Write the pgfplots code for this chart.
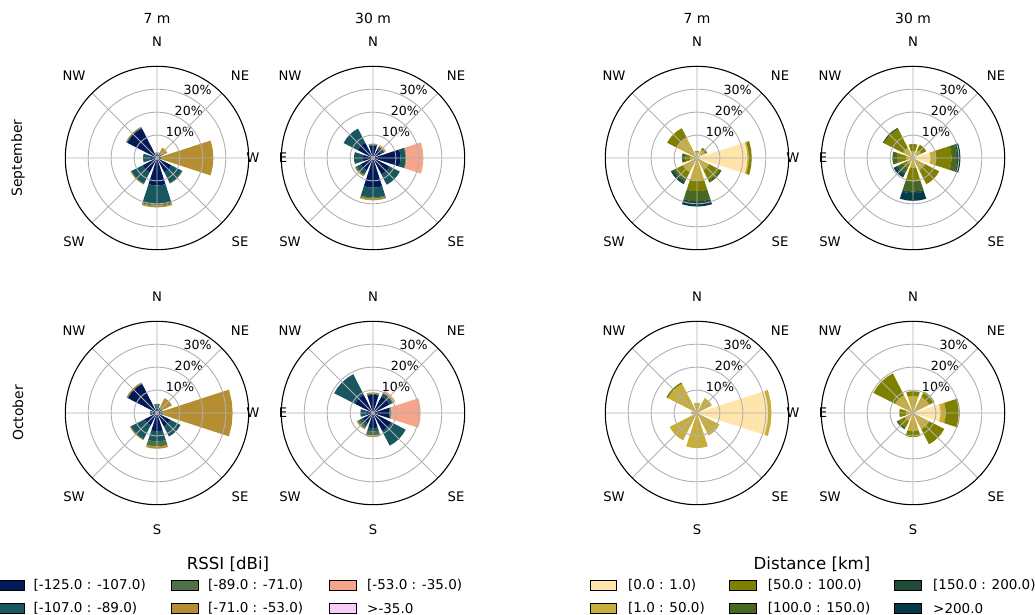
\documentclass[border=0pt]{standalone}
\usepackage{pgfplots}
\usepackage{pgfplotstable}
\pgfplotsset{compat=1.18}
\usepgfplotslibrary{polar}
\usepackage{fontspec}
\setmainfont{DejaVu Sans}

\definecolor{rssi1}{RGB}{1,25,89}
\definecolor{rssi2}{RGB}{25,87,96}
\definecolor{rssi3}{RGB}{80,113,72}
\definecolor{rssi4}{RGB}{180,142,48}
\definecolor{rssi5}{RGB}{247,165,138}
\definecolor{rssi6}{RGB}{250,204,250}
\definecolor{dist1}{RGB}{255,228,172}
\definecolor{dist2}{RGB}{199,173,60}
\definecolor{dist3}{RGB}{128,128,0}
\definecolor{dist4}{RGB}{72,104,34}
\definecolor{dist5}{RGB}{30,76,54}
\definecolor{dist6}{RGB}{5,58,72}
\definecolor{gridgray}{RGB}{176,176,176}

% September, 7 m, RSSI (percent per bin, inner to outer)
\pgfplotstableread{
dir b1 b2 b3 b4 b5 b6
0 1.0 0.8 0.3 22.5 0 0
45 1.5 0.5 0.5 2.5 0 0
90 1.5 0.5 0.2 0.3 0 0
135 14.5 0.3 0.2 0.3 0 0
180 3.0 3.1 0 0 0 0
225 7.0 5.5 0.3 0.2 0 0
270 12.0 8.4 0.4 0.8 0 0
315 7.0 5.2 0.3 0 0 0
}\tA
% September, 30 m, RSSI
\pgfplotstableread{
dir b1 b2 b3 b4 b5 b6
0 12.0 2.2 0.2 0.3 7.3 0
45 4.0 1.5 0 0.5 0.5 0
90 5.5 0.3 0.2 0.3 0 0
135 7.5 6.9 0 0 0 0
180 4.4 3.9 0 0 0 0
225 6.0 2.0 0.6 0.4 0 0
270 13.0 4.2 0.6 0.7 0 0
315 8.0 5.1 0 0 0 0
}\tB
% September, 7 m, distance
\pgfplotstableread{
dir b1 b2 b3 b4 b5 b6
0 22.0 0.6 1.3 0 0 0
45 2.0 2.0 1.0 0 0 0
90 0.5 2.0 0.5 0 0 0
135 0.5 9.5 4.6 0 0 0
180 0 3.0 2.0 1.6 0 0
225 0 7.0 3.5 1.0 0.8 0.5
270 0 10.0 4.5 4.4 1.0 1.3
315 0 6.0 5.0 1.0 0 0
}\tC
% September, 30 m, distance
\pgfplotstableread{
dir b1 b2 b3 b4 b5 b6
0 7.6 2.4 6.8 2.5 0.8 0.6
45 2.0 2.0 2.5 0 0 0
90 0 3.0 3.1 0 0 0
135 0 5.0 9.0 0.8 0 0
180 0 3.0 4.0 2.0 0 0
225 0 3.0 2.0 2.5 1.0 1.0
270 0 4.4 5.8 4.4 0.8 3.3
315 0 6.0 6.8 0 0 0
}\tD
% October, 7 m, RSSI
\pgfplotstableread{
dir b1 b2 b3 b4 b5 b6
0 1.5 0.8 0.3 30.4 0 0
45 2.0 0.5 0.3 4.5 0 0
90 2.0 1.0 1.0 0 0 0
135 14.2 0.3 0 0.5 0 0
180 2.0 1.0 0 0 0 0
225 6.0 6.8 0.2 0.3 0 0
270 8.0 4.4 2.2 1.0 0 0
315 6.5 5.0 0 0 0 0
}\tE
% October, 30 m, RSSI
\pgfplotstableread{
dir b1 b2 b3 b4 b5 b6
0 7.2 0.5 0.2 0.3 12.6 0
45 8.0 1.5 0.5 0.5 0.5 0
90 8.0 0.3 0.2 0.5 0 0
135 8.8 10.2 0 0 0 0
180 3.0 2.5 0 0 0 0
225 5.0 1.5 1.0 0.5 0 0
270 6.6 1.5 1.8 0.6 0 0
315 8.8 7.2 0 0 0 0
}\tF
% October, 7 m, distance
\pgfplotstableread{
dir b1 b2 b3 b4 b5 b6
0 31.0 1.5 0 0 0 0
45 1.0 6.3 0 0 0 0
90 0.5 3.9 0 0 0 0
135 0 14.3 0.7 0 0 0
180 0 2.5 0 0 0 0
225 0 13.4 0 0 0 0
270 0 15.3 0 0 0 0
315 0 11.0 0 0 0 0
}\tG
% October, 30 m, distance
\pgfplotstableread{
dir b1 b2 b3 b4 b5 b6
0 12.0 2.3 6.1 0 0 0
45 0 8.0 2.5 0 0 0
90 0 7.5 2.0 0 0 0
135 0 8.8 10.6 0 0 0
180 0 3.0 3.0 0 0 0
225 0 4.0 3.0 1.0 0 0
270 0 8.0 2.5 0 0 0
315 0 8.0 7.3 0 0 0
}\tH

% stacked wedges (36 degrees wide) for the 8 directions of one table
\newcommand{\rosebars}[2]{%
  \pgfplotsinvokeforeach{0,...,7}{%
    \pgfplotstablegetelem{##1}{dir}\of{#1}\let\segang\pgfplotsretval
    \def\rzero{0}%
    \pgfplotsforeachungrouped \j in {1,...,6}{%
      \pgfplotstablegetelem{##1}{b\j}\of{#1}\let\segval\pgfplotsretval
      \pgfmathsetmacro\rone{\rzero+\segval}%
      \pgfmathsetmacro\angA{\segang-18}%
      \pgfmathsetmacro\angB{\segang-9}%
      \pgfmathsetmacro\angC{\segang+9}%
      \pgfmathsetmacro\angD{\segang+18}%
      \ifdim\segval pt>0pt
        \edef\temp{\noexpand\addplot[fill=#2\j, draw=none, forget plot] coordinates {(\angA,\rzero) (\angA,\rone) (\angB,\rone) (\segang,\rone) (\angC,\rone) (\angD,\rone) (\angD,\rzero) (\angC,\rzero) (\segang,\rzero) (\angB,\rzero)} -- cycle;}%
        \temp
      \fi
      \let\rzero\rone
    }%
  }%
}

\newcommand{\fdir}{\fontsize{13.2}{15}\selectfont}
\newcommand{\frad}{\fontsize{12.6}{15}\selectfont}
\newcommand{\fleg}{\fontsize{13.5}{15}\selectfont}
\newcommand{\ftit}{\fontsize{16.6}{19}\selectfont}
\newcommand{\fhead}{\fontsize{13.9}{16}\selectfont}

\pgfplotsset{rose/.style={
  width=183.4pt, height=183.4pt, scale only axis,
  anchor=center,
  xmin=0, xmax=360, ymin=0, ymax=40,
  xtick={0,45,...,315}, ytick={10,20,30},
  xticklabel={\relax}, yticklabel={\relax},
  major tick length=0pt,
  grid=major,
  major grid style={draw=gridgray, line width=0.9pt},
  separate axis lines,
  x axis line style={black, line width=1.1pt},
  y axis line style={draw=none},
  axis on top,
  clip=false,
}}

\newcommand{\rlabels}{%
  \node[anchor=south west, inner sep=0pt, font=\frad] at (axis cs:67.5,10) {10\%};
  \node[anchor=south west, inner sep=0pt, font=\frad] at (axis cs:67.5,20) {20\%};
  \node[anchor=south west, inner sep=0pt, font=\frad] at (axis cs:67.5,30) {30\%};
}

\begin{document}
\begin{tikzpicture}[x=1pt,y=1pt]
\useasboundingbox (0,0) rectangle (1035,615);

\begin{polaraxis}[rose, at={(157pt,457pt)}]
\rosebars{\tA}{rssi}
\rlabels
\end{polaraxis}
\begin{polaraxis}[rose, at={(373pt,457pt)}]
\rosebars{\tB}{rssi}
\rlabels
\end{polaraxis}
\begin{polaraxis}[rose, at={(697pt,457pt)}]
\rosebars{\tC}{dist}
\rlabels
\end{polaraxis}
\begin{polaraxis}[rose, at={(913pt,457pt)}]
\rosebars{\tD}{dist}
\rlabels
\end{polaraxis}
\begin{polaraxis}[rose, at={(157pt,202pt)}]
\rosebars{\tE}{rssi}
\rlabels
\end{polaraxis}
\begin{polaraxis}[rose, at={(373pt,202pt)}]
\rosebars{\tF}{rssi}
\rlabels
\end{polaraxis}
\begin{polaraxis}[rose, at={(697pt,202pt)}]
\rosebars{\tG}{dist}
\rlabels
\end{polaraxis}
\begin{polaraxis}[rose, at={(913pt,202pt)}]
\rosebars{\tH}{dist}
\rlabels
\end{polaraxis}

% column titles and row labels
\foreach \cx/\t in {157/7 m,373/30 m,697/7 m,913/30 m}{\node[font=\fhead] at (\cx,597) {\t};}
\node[rotate=90, font=\fhead] at (18,457) {September};
\node[rotate=90, font=\fhead] at (18,202) {October};

% direction labels
\foreach \cx in {157,373,697,913}{
  \foreach \cy in {457,202}{
    \node[font=\fdir] at (\cx,\cy+116) {N};
    \node[font=\fdir] at (\cx+83,\cy+82) {NE};
    \node[font=\fdir] at (\cx-83,\cy+82) {NW};
    \node[font=\fdir] at (\cx-83,\cy-84) {SW};
    \node[font=\fdir] at (\cx+83,\cy-84) {SE};
  }
}
\foreach \cx in {157,697}{\foreach \cy in {457,202}{\node[font=\fdir] at (\cx+96,\cy) {W};}}
\foreach \cx in {373,913}{\foreach \cy in {457,202}{\node[font=\fdir] at (\cx-90,\cy) {E};}}
\foreach \cx in {157,373,697,913}{\node[font=\fdir] at (\cx,202-117) {S};}

% legends
\node[font=\ftit] at (228,51) {RSSI [dBi]};
\draw[fill=rssi1, line width=0.8pt] (-2.6,25) rectangle (24,35);
\node[anchor=west, inner sep=0pt, font=\fleg] at (33.5,30) {[-125.0 : -107.0)};
\draw[fill=rssi2, line width=0.8pt] (-2.6,1.5) rectangle (24,11.5);
\node[anchor=west, inner sep=0pt, font=\fleg] at (33.5,6.5) {[-107.0 : -89.0)};
\draw[fill=rssi3, line width=0.8pt] (171.7,25) rectangle (198.3,35);
\node[anchor=west, inner sep=0pt, font=\fleg] at (208,30) {[-89.0 : -71.0)};
\draw[fill=rssi4, line width=0.8pt] (171.7,1.5) rectangle (198.3,11.5);
\node[anchor=west, inner sep=0pt, font=\fleg] at (208,6.5) {[-71.0 : -53.0)};
\draw[fill=rssi5, line width=0.8pt] (329.3,25) rectangle (356,35);
\node[anchor=west, inner sep=0pt, font=\fleg] at (367,30) {[-53.0 : -35.0)};
\draw[fill=rssi6, line width=0.8pt] (329.3,1.5) rectangle (356,11.5);
\node[anchor=west, inner sep=0pt, font=\fleg] at (367,6.5) {>-35.0};

\node[font=\ftit] at (812,51) {Distance [km]};
\draw[fill=dist1, line width=0.8pt] (590,25) rectangle (616.7,35);
\node[anchor=west, inner sep=0pt, font=\fleg] at (628,30) {[0.0 : 1.0)};
\draw[fill=dist2, line width=0.8pt] (590,1.5) rectangle (616.7,11.5);
\node[anchor=west, inner sep=0pt, font=\fleg] at (628,6.5) {[1.0 : 50.0)};
\draw[fill=dist3, line width=0.8pt] (729.3,25) rectangle (756,35);
\node[anchor=west, inner sep=0pt, font=\fleg] at (767.7,30) {[50.0 : 100.0)};
\draw[fill=dist4, line width=0.8pt] (729.3,1.5) rectangle (756,11.5);
\node[anchor=west, inner sep=0pt, font=\fleg] at (767.7,6.5) {[100.0 : 150.0)};
\draw[fill=dist5, line width=0.8pt] (894.3,25) rectangle (921.7,35);
\node[anchor=west, inner sep=0pt, font=\fleg] at (933,30) {[150.0 : 200.0)};
\draw[fill=dist6, line width=0.8pt] (894.3,1.5) rectangle (921.7,11.5);
\node[anchor=west, inner sep=0pt, font=\fleg] at (933,6.5) {>200.0};
\end{tikzpicture}
\end{document}
